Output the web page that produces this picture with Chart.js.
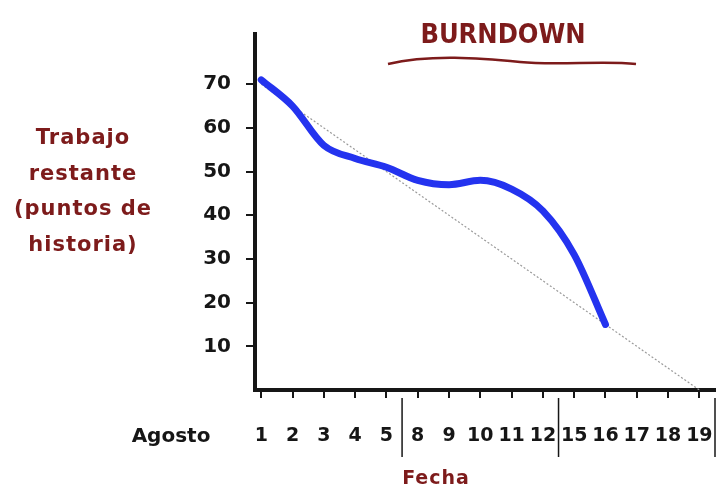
<!DOCTYPE html>
<html>
<head>
<meta charset="utf-8">
<script src="https://cdn.jsdelivr.net/npm/chart.js@4"></script>
<style>
  html, body { margin: 0; padding: 0; background: #fff; }
  #wrap { width: 722px; height: 492px; }
</style>
</head>
<body>
<div id="wrap"><canvas id="burndown"></canvas></div>
<script>
// days of August shown on the x axis (weekends skipped)
const days = ['1', '2', '3', '4', '5', '8', '9', '10', '11', '12', '15', '16', '17', '18', '19'];
// remaining work (only up to day 16)
const remaining = [71, 65, 56, 53, 51, 48, 47, 48, 46, 41, 31, 15];
// ideal line: start and end only
const ideal = [70, null, null, null, null, null, null, null, null, null, null, null, null, null, 0];
// week separators (after 5, after 12, after 19)
const weekBreaks = [4.5, 9.5, 14.5];

const darkRed = '#7d1b1b';
const ink = '#161616';
const sketchFont = '"DejaVu Sans", sans-serif';

const toPoints = (values) => values
    .map((v, i) => ({ x: i, y: v }))
    .filter(p => p.y !== null);

// hide the tick marks at the very ends of the y axis
const yTickColor = (c) => (c.tick && (c.tick.value === 0 || c.tick.value >= 80)) ? 'rgba(0,0,0,0)' : ink;

const extraText = {
    id: 'extraText',
    afterDraw(chart) {
        const ctx = chart.ctx;
        const xs = chart.scales.x;
        const area = chart.chartArea;
        ctx.save();

        // week separators
        ctx.strokeStyle = ink;
        ctx.lineWidth = 1.5;
        for (const b of weekBreaks) {
            const px = xs.getPixelForValue(b);
            ctx.beginPath();
            ctx.moveTo(px, area.bottom + 8);
            ctx.lineTo(px, area.bottom + 67);
            ctx.stroke();
        }

        // title
        ctx.fillStyle = darkRed;
        ctx.textAlign = 'center';
        ctx.textBaseline = 'middle';
        ctx.font = 'bold 27px "DejaVu Sans Condensed", ' + sketchFont;
        ctx.fillText('BURNDOWN', 503, 36);

        // wavy underline
        ctx.strokeStyle = darkRed;
        ctx.lineWidth = 2.5;
        ctx.beginPath();
        ctx.moveTo(388, 64);
        ctx.bezierCurveTo(430, 54, 480, 58, 520, 62);
        ctx.bezierCurveTo(560, 66, 600, 60, 636, 64);
        ctx.stroke();

        // y title
        ctx.font = 'bold 21px ' + sketchFont;
        ctx.letterSpacing = '1px';
        const yTitle = ['Trabajo', 'restante', '(puntos de', 'historia)'];
        yTitle.forEach((line, i) => {
            ctx.fillText(line, 83, 139 + i * 35.5);
        });

        // x title
        ctx.font = 'bold 19px ' + sketchFont;
        ctx.fillText('Fecha', 436, 479);

        // month label
        ctx.fillStyle = ink;
        ctx.font = 'bold 20px ' + sketchFont;
        ctx.letterSpacing = '0px';
        ctx.fillText('Agosto', 171, 437);

        ctx.restore();
    }
};

new Chart(document.getElementById('burndown'), {
    type: 'line',
    data: {
        datasets: [{
            label: 'Ideal',
            data: toPoints(ideal),
            borderColor: '#9a9a9a',
            borderWidth: 1.2,
            borderDash: [2, 2],
            pointRadius: 0,
            fill: false,
            order: 2
        }, {
            label: 'Trabajo restante',
            data: toPoints(remaining),
            borderColor: '#2433ef',
            borderWidth: 7,
            borderCapStyle: 'round',
            borderJoinStyle: 'round',
            pointRadius: 0,
            cubicInterpolationMode: 'monotone',
            fill: false,
            order: 1
        }]
    },
    options: {
        responsive: true,
        maintainAspectRatio: false,
        animation: false,
        layout: {
            padding: { top: 34, right: 7, left: 0, bottom: 0 }
        },
        plugins: {
            legend: { display: false },
            tooltip: { enabled: false }
        },
        scales: {
            x: {
                type: 'linear',
                min: -0.2,
                max: 14.5,
                afterBuildTicks: (scale) => {
                    scale.ticks = days.map((d, i) => ({ value: i }));
                },
                afterFit: (scale) => {
                    scale.height = 102;
                    scale.paddingLeft = 0;
                    scale.paddingRight = 0;
                },
                ticks: {
                    callback: (v) => days[v],
                    color: ink,
                    padding: 27,
                    maxRotation: 0,
                    autoSkip: false,
                    font: { family: sketchFont, size: 19, weight: 'bold' }
                },
                grid: {
                    drawOnChartArea: false,
                    drawTicks: true,
                    tickLength: 8,
                    color: ink,
                    lineWidth: 2
                },
                border: { color: ink, width: 4 }
            },
            y: {
                min: 0,
                max: 81.5,
                afterBuildTicks: (scale) => {
                    scale.ticks = scale.ticks.filter(t => t.value % 5 === 0);
                },
                afterFit: (scale) => {
                    scale.width = 255;
                    scale.paddingTop = 0;
                    scale.paddingBottom = 0;
                },
                ticks: {
                    stepSize: 5,
                    callback: (v) => (v % 10 === 0 && v > 0 && v < 80) ? v : '',
                    color: ink,
                    padding: 15,
                    font: { family: sketchFont, size: 20, weight: 'bold' }
                },
                grid: {
                    drawOnChartArea: false,
                    drawTicks: true,
                    tickLength: 9,
                    color: yTickColor,
                    lineWidth: 2
                },
                border: { color: ink, width: 4 }
            }
        }
    },
    plugins: [extraText]
});
</script>
</body>
</html>
